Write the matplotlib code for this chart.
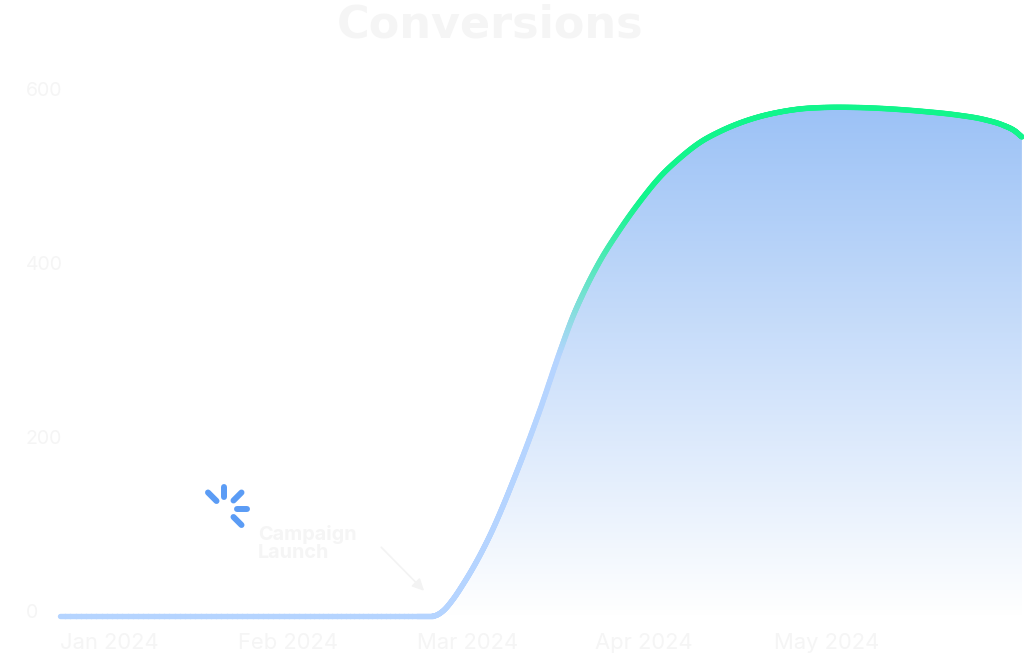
import numpy as np
import matplotlib
matplotlib.use("Agg")
import matplotlib.pyplot as plt
from matplotlib.collections import LineCollection
from matplotlib.colors import LinearSegmentedColormap
from matplotlib.lines import Line2D
from matplotlib.transforms import ScaledTranslation

plt.rcParams['font.family'] = ['Inter', 'DejaVu Sans']

TITLE = "Conversions"
ANNOTATION = "Campaign\nLaunch"
month_labels = ["Jan 2024", "Feb 2024", "Mar 2024", "Apr 2024", "May 2024"]
month_ticks = [0, 1, 2, 3, 4]
y_ticks = [0, 200, 400, 600]

# time in months since 1 Jan 2024
time_months = [0, 0.7, 1.4, 2.0, 2.0896, 2.1457, 2.2017, 2.2577, 2.3137, 2.3697, 2.4258, 2.4818,
               2.5378, 2.5938, 2.6891, 2.8011, 2.8739, 2.9300, 3.0252, 3.1373, 3.2493, 3.3613,
               3.4734, 3.5854, 3.6975, 3.8095, 3.9216, 4.0336, 4.1457, 4.2801, 4.4650, 4.6555,
               4.8403, 5.0252, 5.1765, 5.2885, 5.3501, 5.3894]
conversions = [0, 0, 0, 0, 0, 5.7, 19.0, 36.2, 55.2, 76.4, 100, 126.4,
               154.6, 183.9, 236.8, 304, 344.3, 370.1, 408, 444.3, 476.4, 504.6,
               526.4, 544.3, 556.9, 566.7, 574.1, 579.3, 582.8, 584.5, 584.5, 582.8,
               579.9, 575.9, 570.7, 563.8, 557.5, 550.6]

TEXT = "#f5f5f5"
BLUE_LINE = "#b5d4ff"
GREEN_LINE = "#12f58c"
FILL_TOP = "#9cc2f6"
SPINNER = "#5b9cf5"

W, H = 1024, 656
fig = plt.figure(figsize=(W / 100, H / 100), dpi=100, facecolor="white")
ax = fig.add_axes([60 / W, 1 - 616 / H, (1022 - 60) / W, (616 - 94) / H])
ax.set_xlim(0, 5.39)
ax.set_ylim(0, 600)
ax.patch.set_visible(False)
for s in ax.spines.values():
    s.set_visible(False)


def smooth(x, y, per=24):
    """Smooth cubic through the read points (for drawing only)."""
    x, y = np.asarray(x, float), np.asarray(y, float)
    h = np.diff(x)
    m = np.gradient(y, x)
    m[:5] = 0
    xs, ys = [], []
    for i in range(len(h)):
        t = np.linspace(0, 1, per, endpoint=False)
        xs.append(x[i] + t * h[i])
        ys.append((2*t**3 - 3*t**2 + 1) * y[i] + (t**3 - 2*t**2 + t) * h[i] * m[i]
                  + (-2*t**3 + 3*t**2) * y[i + 1] + (t**3 - t**2) * h[i] * m[i + 1])
    return np.r_[np.concatenate(xs), x[-1]], np.r_[np.concatenate(ys), y[-1]]


xs, ys = smooth(time_months, conversions)

# gradient area under the curve
fill_cmap = LinearSegmentedColormap.from_list("fill", ["#ffffff", FILL_TOP])
area = ax.fill_between(xs, ys, 0, color="none", lw=0)
grad = ax.imshow(np.linspace(1, 0, 256).reshape(-1, 1), cmap=fill_cmap, vmin=0, vmax=1,
                 extent=[0, 5.39, 0, max(conversions)], aspect="auto", zorder=1)
grad.set_clip_path(area.get_paths()[0], transform=ax.transData)

# curve with colour by height
line_cmap = LinearSegmentedColormap.from_list("line", [BLUE_LINE, GREEN_LINE])
pts = np.column_stack([xs, ys])
segs = np.stack([pts[:-1], pts[1:]], axis=1)
lc = LineCollection(segs, cmap=line_cmap, norm=plt.Normalize(300, 480), linewidths=3.9,
                    capstyle="round", zorder=3, clip_on=False)
lc.set_array((ys[:-1] + ys[1:]) / 2)
ax.add_collection(lc)

# ticks
ax.set_xticks(month_ticks, month_labels)
ax.set_yticks(y_ticks, [str(v) for v in y_ticks])
ax.tick_params(axis="x", length=0, pad=12, labelsize=15.8, labelcolor=TEXT)
ax.tick_params(axis="y", length=0, pad=24.5, labelsize=14, labelcolor=TEXT)
for lab in ax.get_xticklabels():
    lab.set_ha("left")
off = ScaledTranslation(0, 5 / 100, fig.dpi_scale_trans)
for lab in ax.get_yticklabels():
    lab.set_ha("left")
    lab.set_transform(lab.get_transform() + off)

# title
fig.text(490 / W, 1 - 38 / H, TITLE, ha="center", va="baseline", fontsize=32,
         fontweight="bold", color=TEXT, family="DejaVu Sans")

# annotation
ax.annotate(ANNOTATION, xy=(2.04, 29), xytext=(1.109, 83), ha="left", va="center",
            fontsize=14.3, fontweight="bold", color=TEXT, linespacing=1.0)
ax.annotate("", xy=(2.04, 29), xytext=(1.80, 79),
            arrowprops=dict(arrowstyle="-|>,head_length=0.7,head_width=0.35", color="#f3f3f3", lw=1.2,
                            shrinkA=0, shrinkB=0))

# spinner decoration: strokes given as figure pixels
spinner_strokes = [((208, 492.5), (216.5, 501)), ((224, 486.5), (224, 497)), ((241.5, 492.5), (233.5, 500.5)),
                   ((237, 508.7), (247, 508.7)), ((233.5, 517), (241.5, 525))]
for (x0, y0), (x1, y1) in spinner_strokes:
    fig.add_artist(Line2D([x0 / W, x1 / W], [1 - y0 / H, 1 - y1 / H], transform=fig.transFigure,
                          color=SPINNER, lw=4.3, solid_capstyle="round"))

fig.savefig("out.png", dpi=100)
